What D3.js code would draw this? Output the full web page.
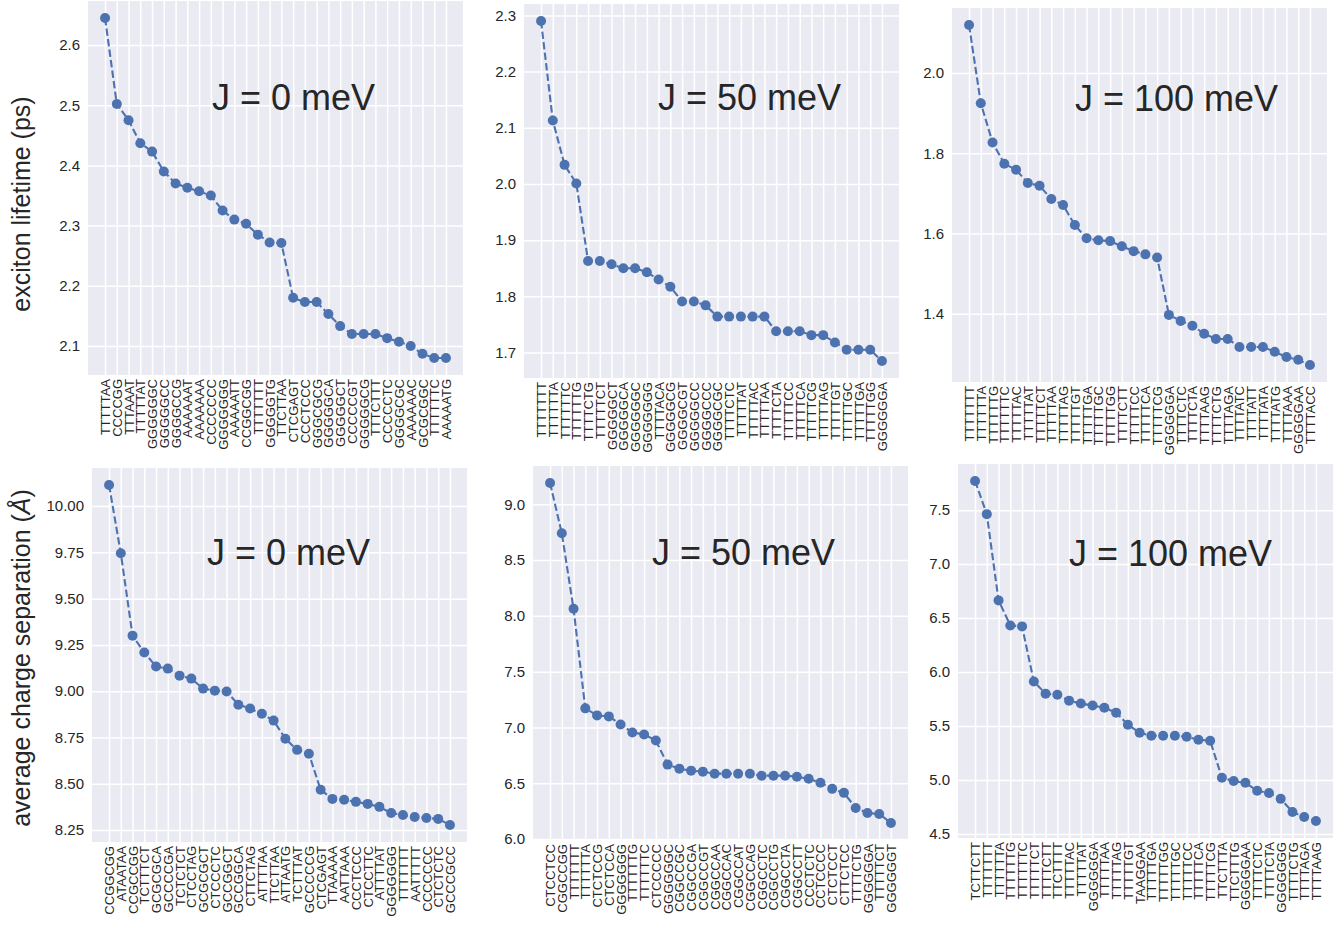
<!DOCTYPE html>
<html>
<head>
<meta charset="utf-8">
<script src="https://cdn.jsdelivr.net/npm/d3@7"></script>
<style>
  html, body { margin: 0; padding: 0; background: #ffffff; }
  svg { display: block; font-family: "Liberation Sans", Arial, Helvetica, sans-serif; }
</style>
</head>
<body>
<svg id="chart" width="1342" height="931"></svg>
<script>
// ---------------- DATA ----------------
const labels0 = ["TTTTTAA","CCCCGG","TTTAAAT","TTTTTAT","GGGGGGC","GGGGGCC","GGGGCCG","AAAAAAT","AAAAAAA","CCCCCCC","GGGGGGG","AAAAATT","CCGGCGG","TTTTTTT","GGGGGTG","TTCTTAA","CTCGAGT","CCCTCCC","GGGCGCG","GGGGGCA","GGGGGCT","CCCCCGT","GGGGGCG","TTTCTTT","CCCCCTC","GGGGCGC","AAAAAAC","GCGCGGC","TTTTTTC","AAAAATG"];
const lifetime0 = [2.645,2.502,2.475,2.437,2.423,2.390,2.370,2.363,2.357,2.350,2.325,2.310,2.303,2.285,2.272,2.271,2.180,2.173,2.173,2.153,2.133,2.120,2.120,2.120,2.113,2.107,2.100,2.087,2.080,2.080];

const labels50 = ["TTTTTTT","TTTTTTA","TTTTTTC","TTTTTTG","TTTTCTG","TTTTTCT","GGGGGCT","GGGGGCA","GGGGGGC","GGGGGGG","TTTTACA","GGGGGCG","GGGGCGT","GGGGGCC","GGGGCCC","GGGGCGC","TTTTCTC","TTTTTAT","TTTTTAC","TTTTTAA","TTTTCTA","TTTTTCC","TTTTTCA","TTTTTCG","TTTTTAG","TTTTTGT","TTTTTGC","TTTTTGA","TTTTTGG","GGGGGGA"];
const lifetime50 = [2.290,2.113,2.034,2.001,1.863,1.863,1.857,1.850,1.850,1.843,1.830,1.817,1.791,1.791,1.784,1.764,1.764,1.764,1.764,1.764,1.738,1.738,1.738,1.731,1.731,1.718,1.705,1.705,1.705,1.685];

const labels100 = ["TTTTTTT","TTTTTTA","TTTTTTG","TTTTTTC","TTTTTAC","TTTTTAT","TTTTTCT","TTTTTAA","TTTTTAG","TTTTTGT","TTTTTGA","TTTTTGC","TTTTTGG","TTTTCTT","TTTTTCC","TTTTTCA","TTTTTCG","GGGGGGA","TTTTCTC","TTTTCTA","TTTTAAG","TTTTCTG","TTTTAGA","TTTTATC","TTTTATT","TTTTATA","TTTTATG","TTTTAAA","GGGGGAA","TTTTACC"];
const lifetime100 = [2.120,1.925,1.827,1.774,1.759,1.726,1.719,1.686,1.671,1.621,1.588,1.583,1.581,1.568,1.556,1.548,1.540,1.397,1.382,1.370,1.350,1.337,1.337,1.317,1.317,1.317,1.305,1.292,1.285,1.272];

const labelsSep0 = ["CCGGCGG","ATAATAA","CCGCCGG","TCTTTCT","GCGCGCA","GCCCCGA","TCTCTCT","CTCCTAG","GCGCGCT","CTCCCTC","GCCGGCT","GCCGGCA","CTTCTAG","ATTTTAA","TTCTTAA","ATTAATG","TCTTTAT","GCCCCCG","CTCGAGT","TTAAAAA","AATTAAA","CCCTCCC","CTCCTTC","ATTTTAT","GGGGGGG","TTTTTTT","AATTTTT","CCCCCCC","CTCTCTC","GCCCGCC"];
const separation0 = [10.114,9.745,9.300,9.209,9.133,9.122,9.084,9.068,9.014,9.003,8.998,8.927,8.906,8.878,8.841,8.743,8.683,8.662,8.467,8.418,8.413,8.402,8.391,8.375,8.342,8.331,8.320,8.315,8.310,8.277];

const labelsSep50 = ["CTCCTCC","CGGCCGG","TTTTTTT","TTTTTTA","CTCTCCG","CTCTCCA","GGGGGGG","TTTTTTG","TTTTTTC","CTCCCCC","GGGGGGC","CGGCCGC","CGGCCGA","CGGCCGT","CGGCCAA","CGGCCAC","CGGCCAT","CGGCCAG","CGGCCTC","CGGCCTG","CGGCCTA","CGGCCTT","CCCTCTC","CCTCCCC","CTCTCCT","CTTCTCC","TTTTCTG","GGGGGGA","TTTTTCT","GGGGGGT"];
const separation50 = [9.190,8.740,8.063,7.171,7.108,7.099,7.027,6.955,6.937,6.883,6.667,6.631,6.613,6.604,6.586,6.586,6.586,6.586,6.568,6.568,6.568,6.559,6.541,6.505,6.450,6.414,6.279,6.234,6.225,6.144];

const labelsSep100 = ["TCTTCTT","TTTTTTT","TTTTTTA","TTTTTTG","TTTTTTC","TTTTTCT","TTTTCTT","TTCTTTT","TTTTTAC","TTTTTAT","GGGGGGA","TTTTTAA","TTTTTAG","TTTTTGT","TAAGGAA","TTTTTGA","TTTTTGG","TTTTTGC","TTTTTCC","TTTTTCA","TTTTTCG","TTCTTTA","TTCTTTG","GGGGGAA","TTTTCTC","TTTTCTA","GGGGGGG","TTTTCTG","TTTTAGA","TTTTAAG"];
const separation100 = [7.770,7.463,6.664,6.432,6.423,5.912,5.800,5.790,5.735,5.708,5.690,5.670,5.624,5.512,5.438,5.410,5.410,5.410,5.400,5.373,5.364,5.020,4.990,4.974,4.900,4.880,4.825,4.704,4.657,4.620];

const yticks0 = [2.1,2.2,2.3,2.4,2.5,2.6];
const yticks50 = [1.7,1.8,1.9,2.0,2.1,2.2,2.3];
const yticks100 = [1.4,1.6,1.8,2.0];
const yticksSep0 = [8.25,8.50,8.75,9.00,9.25,9.50,9.75,10.00];
const yticksSep50 = [6.0,6.5,7.0,7.5,8.0,8.5,9.0];
const yticksSep100 = [4.5,5.0,5.5,6.0,6.5,7.0,7.5];

const titles = ["J = 0 meV","J = 50 meV","J = 100 meV","J = 0 meV","J = 50 meV","J = 100 meV"];
const yLabelTop = "exciton lifetime (ps)";
const yLabelBottom = "average charge separation (";

// ---------------- LAYOUT ----------------
const PW = 375, PH = 374;
const panels = [
  {labels: labels0,      values: lifetime0,     ticks: yticks0,      fmt: ".1f", left: 88,  top: 1,   tx: 124, ty: 109},
  {labels: labels50,     values: lifetime50,    ticks: yticks50,     fmt: ".1f", left: 524, top: 4,   tx: 134, ty: 106},
  {labels: labels100,    values: lifetime100,   ticks: yticks100,    fmt: ".1f", left: 952, top: 8,   tx: 123, ty: 103},
  {labels: labelsSep0,   values: separation0,   ticks: yticksSep0,   fmt: ".2f", left: 92,  top: 468, tx: 115, ty: 97},
  {labels: labelsSep50,  values: separation50,  ticks: yticksSep50,  fmt: ".1f", left: 533, top: 466, tx: 119, ty: 99},
  {labels: labelsSep100, values: separation100, ticks: yticksSep100, fmt: ".1f", left: 958, top: 464, tx: 111, ty: 102}
];

const BLUE = "#4c72b0", BG = "#eaeaf2", TXT = "#262626";
const svg = d3.select("#chart");

panels.forEach((p, k) => {
  const n = p.values.length;
  const x = d3.scalePoint().domain(d3.range(n)).range([0, PW]).padding(1.45);
  const [mn, mx] = d3.extent(p.values);
  const pad = (mx - mn) * 0.05;
  const y = d3.scaleLinear().domain([mn - pad, mx + pad]).range([PH, 0]);

  const g = svg.append("g").attr("transform", `translate(${p.left},${p.top})`);
  g.append("rect").attr("width", PW).attr("height", PH).attr("fill", BG);

  // grid lines
  const gridX = g.append("g").call(d3.axisBottom(x).tickSize(PH).tickFormat(""));
  const gridY = g.append("g").call(d3.axisLeft(y).tickValues(p.ticks).tickSize(-PW).tickFormat(""));
  [gridX, gridY].forEach(gg => {
    gg.select(".domain").remove();
    gg.selectAll("line").attr("stroke", "#ffffff").attr("stroke-width", 1.5);
  });

  // y axis labels
  const ya = g.append("g").call(d3.axisLeft(y).tickValues(p.ticks).tickSize(0).tickPadding(8).tickFormat(d3.format(p.fmt)));
  ya.select(".domain").remove();
  ya.selectAll("text").attr("fill", TXT).style("font-size", "15px").style("font-family", "Liberation Sans, Arial, sans-serif");

  // x axis labels
  const xa = g.append("g").attr("transform", `translate(0,${PH})`)
    .call(d3.axisBottom(x).tickSize(0).tickFormat(i => p.labels[i]));
  xa.select(".domain").remove();
  xa.selectAll("text")
    .attr("fill", TXT)
    .style("font-size", "13px")
    .style("font-family", "Liberation Sans, Arial, sans-serif")
    .attr("text-anchor", "end")
    .attr("transform", "rotate(-90)")
    .attr("x", -4)
    .attr("y", 0)
    .attr("dy", "0.35em");

  // line + markers
  const line = d3.line().x((d, i) => x(i)).y(d => y(d));
  g.append("path").datum(p.values).attr("d", line)
    .attr("fill", "none").attr("stroke", BLUE).attr("stroke-width", 2.1)
    .attr("stroke-dasharray", "7.4,3.2");
  g.selectAll("circle.pt").data(p.values).enter().append("circle")
    .attr("class", "pt").attr("cx", (d, i) => x(i)).attr("cy", d => y(d))
    .attr("r", 5).attr("fill", BLUE);

  // annotation
  g.append("text").attr("x", p.tx).attr("y", p.ty)
    .attr("fill", TXT).style("font-size", "36px").text(titles[k]);
});

// y-axis titles
svg.append("text")
  .attr("transform", `translate(30,204) rotate(-90)`)
  .attr("text-anchor", "middle").attr("fill", TXT).style("font-size", "25px")
  .text(yLabelTop);
const yl = svg.append("text")
  .attr("transform", `translate(30,658) rotate(-90)`)
  .attr("text-anchor", "middle").attr("fill", TXT).style("font-size", "25px");
yl.append("tspan").text(yLabelBottom);
yl.append("tspan").style("font-style", "italic").text("Å");
yl.append("tspan").text(")");
</script>
</body>
</html>
